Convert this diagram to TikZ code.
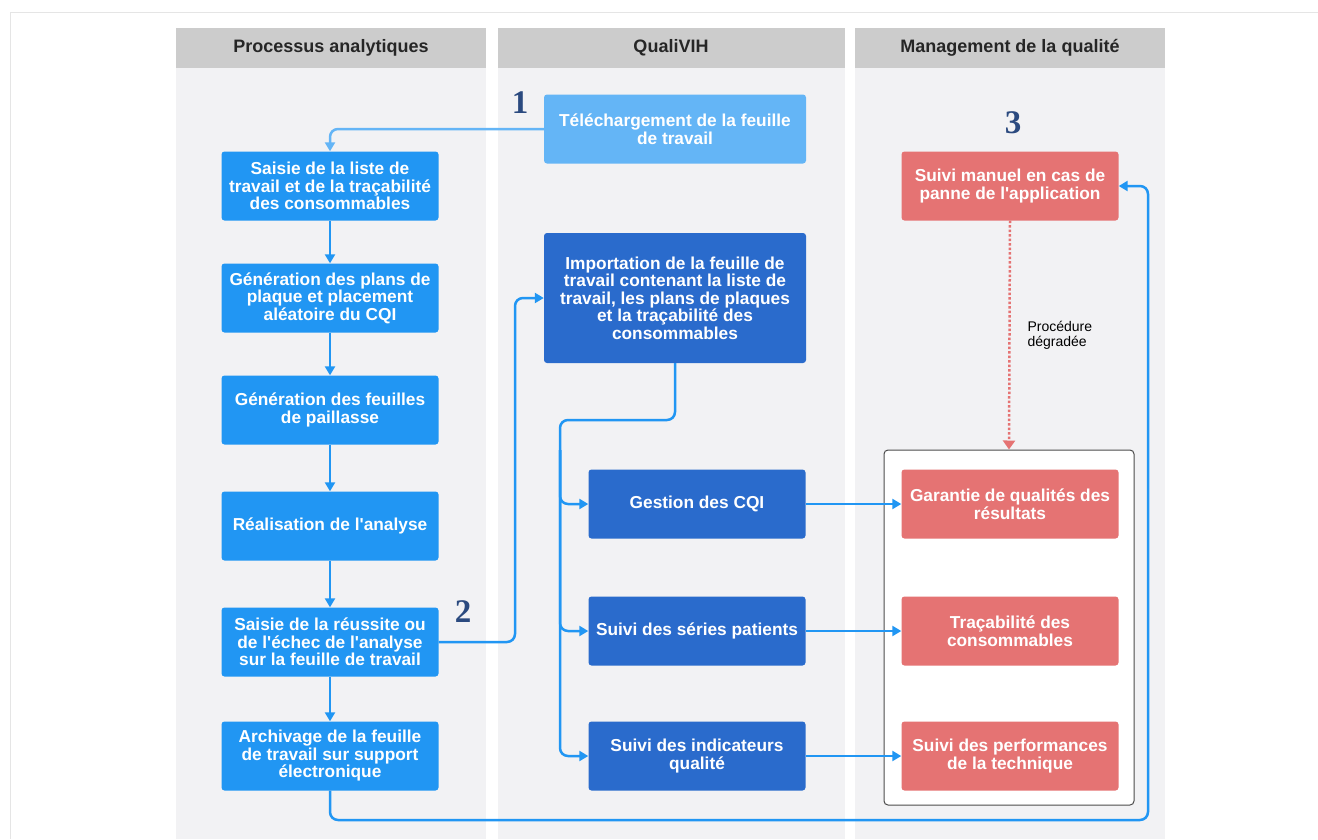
\documentclass[tikz,border=0pt]{standalone}
\usepackage{fontspec}
\setmainfont{Liberation Sans}[Ligatures=TeXOff]
\newfontfamily\numfont{Liberation Serif}
\usetikzlibrary{arrows.meta, positioning, calc}
\definecolor{headgray}{HTML}{CCCCCC}
\definecolor{lanegray}{HTML}{F2F2F4}
\definecolor{stepblue}{HTML}{2196F3}
\definecolor{lightblue}{HTML}{64B5F6}
\definecolor{darkblue}{HTML}{2A6BCC}
\definecolor{qualred}{HTML}{E57373}
\definecolor{numblue}{HTML}{2B4A7F}

\tikzset{
  box/.style={rounded corners=3pt, minimum width=217pt, minimum height=69pt,
    align=center, text=white, inner sep=2pt,
    font=\fontsize{17.3}{17.5}\selectfont\bfseries},
  stepbox/.style={box, fill=stepblue},
  appbox/.style={box, fill=darkblue},
  qualbox/.style={box, fill=qualred},
  lanehead/.style={font=\fontsize{18}{20}\selectfont\bfseries, text=black!85},
  num/.style={font=\numfont\fontsize{33}{33}\selectfont\bfseries, text=numblue},
  flow/.style={draw=stepblue, line width=2.5pt, rounded corners=8pt,
    -{Triangle[length=9pt,width=10pt]}},
  dotline/.style={draw=qualred, line width=2.5pt, dotted,
    -{Triangle[length=9pt,width=12pt]}}
}

\begin{document}
\begin{tikzpicture}[x=1pt, y=-1pt]
  \useasboundingbox (0,0) rectangle (1318,839);
  \fill[white] (0,0) rectangle (1318,839);
  \draw[black!10] (10,839) -- (10,12) -- (1318,12);

  % lanes
  \fill[lanegray] (176,68) rectangle (486,839);
  \fill[lanegray] (498,68) rectangle (845,839);
  \fill[lanegray] (855,68) rectangle (1165,839);
  \fill[headgray] (176,28) rectangle (486,68);
  \fill[headgray] (498,28) rectangle (845,68);
  \fill[headgray] (855,28) rectangle (1165,68);
  \node[lanehead] (h1) at (331,48) {Processus analytiques};
  \node[lanehead] (h2) at (671,48) {QualiVIH};
  \node[lanehead] (h3) at (1010,48) {Management de la qualité};

  % processus analytiques
  \node[stepbox] (liste) at (330,186) {Saisie de la liste de\\travail et de la traçabilité\\des consommables};
  \node[stepbox] (plans) at (330,298) {Génération des plans de\\plaque et placement\\aléatoire du CQI};
  \node[stepbox] (paillasse) at (330,410) {Génération des feuilles\\de paillasse};
  \node[stepbox] (analyse) at (330,526) {Réalisation de l'analyse};
  \node[stepbox] (reussite) at (330,642) {Saisie de la réussite ou\\de l'échec de l'analyse\\sur la feuille de travail};
  \node[stepbox] (archive) at (330,756) {Archivage de la feuille\\de travail sur support\\électronique};

  % QualiVIH
  \node[box, fill=lightblue, minimum width=262pt] (telech) at (675,129) {Téléchargement de la feuille\\de travail};
  \node[appbox, minimum width=262pt, minimum height=130pt] (import) at (675,298) {Importation de la feuille de\\travail contenant la liste de\\travail, les plans de plaques\\et la traçabilité des\\consommables};
  \node[appbox] (cqi) at (697,504) {Gestion des CQI};
  \node[appbox] (series) at (697,631) {Suivi des séries patients};
  \node[appbox] (indic) at (697,756) {Suivi des indicateurs\\qualité};

  % management de la qualite
  \node[qualbox] (manuel) at (1010,186) {Suivi manuel en cas de\\panne de l'application};
  \node[draw=black!70, fill=white, rounded corners=4pt, line width=1pt,
        minimum width=250pt, minimum height=355pt] (cadre) at (1009,627.5) {};
  \node[qualbox] (garantie) at (1010,504) {Garantie de qualités des\\résultats};
  \node[qualbox] (traca) at (1010,631) {Traçabilité des\\consommables};
  \node[qualbox] (perf) at (1010,756) {Suivi des performances\\de la technique};

  \node[num] (n1) at (520,103) {1};
  \node[num] (n2) at (463,612) {2};
  \node[num] (n3) at (1013,123) {3};

  % connectors
  \draw[flow, draw=lightblue] (telech.west) -| (liste.north);
  \foreach \a/\b in {liste/plans, plans/paillasse, paillasse/analyse, analyse/reussite, reussite/archive}
    \draw[flow] (\a.south) -- (\b.north);
  \coordinate (up2) at (515,642);
  \draw[flow] (reussite.east) -- (up2) |- (import.west);

  \coordinate (split) at (560,420);
  \coordinate (trunk) at (560,450);
  \draw[flow] (import.south) |- (split) |- (cqi.west);
  \draw[flow] (trunk) |- (series.west);
  \draw[flow] (trunk) |- (indic.west);

  \draw[flow] (cqi.east) -- (garantie.west);
  \draw[flow] (series.east) -- (traca.west);
  \draw[flow] (indic.east) -- (perf.west);

  \coordinate (loop) at (1148,820);
  \draw[flow] (archive.south) |- (loop) |- (manuel.east);

  \draw[dotline] (manuel.south) -- (cadre.north);
  \node[anchor=north west, align=left, font=\fontsize{14}{15}\selectfont] (degrad)
    at (1024,318) {Procédure\\dégradée};
\end{tikzpicture}
\end{document}
